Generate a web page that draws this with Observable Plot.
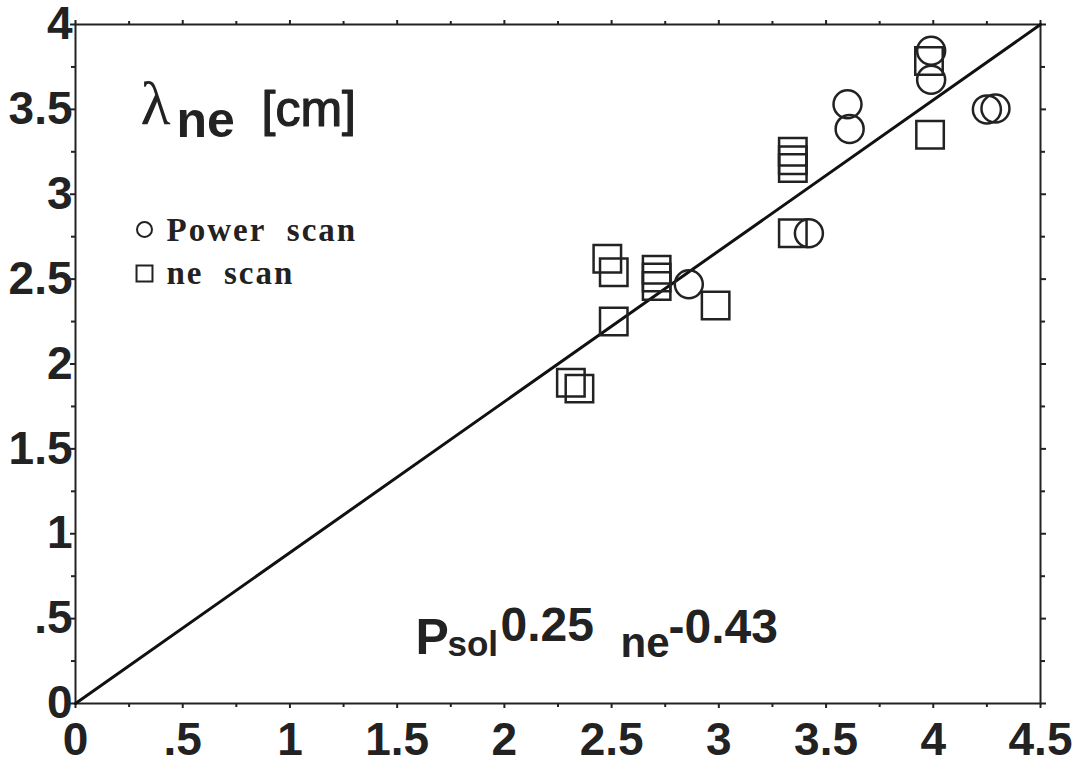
<!DOCTYPE html>
<html>
<head>
<meta charset="utf-8">
<script src="https://cdn.jsdelivr.net/npm/d3@7"></script>
<script src="https://cdn.jsdelivr.net/npm/@observablehq/plot@0.6"></script>
<style>
  html, body { margin: 0; padding: 0; background: #ffffff; }
</style>
</head>
<body>
<script>
// Power scan (circles)
const powerX = [2.86, 3.42, 3.60, 3.61, 3.99, 3.99, 4.25, 4.29];
const powerY = [2.47, 2.77, 3.53, 3.385, 3.845, 3.675, 3.50, 3.505];
// ne scan (squares)
const neX = [2.48, 2.51, 2.71, 2.71, 2.71, 2.51, 2.985, 2.31, 2.35, 3.345, 3.345, 3.345, 3.345, 3.98, 3.985];
const neY = [2.62, 2.54, 2.555, 2.51, 2.46, 2.25, 2.345, 1.89, 1.855, 3.25, 3.20, 3.155, 2.77, 3.785, 3.35];
// fit line
const fitX = [0, 4.5];
const fitY = [0, 4];
// ticks
const xMajor = [0, 0.5, 1, 1.5, 2, 2.5, 3, 3.5, 4, 4.5];
const xMinor = [0.25, 0.75, 1.25, 1.75, 2.25, 2.75, 3.25, 3.75, 4.25];
const yMajor = [0, 0.5, 1, 1.5, 2, 2.5, 3, 3.5, 4];
const yMinor = [0.25, 0.75, 1.25, 1.75, 2.25, 2.75, 3.25, 3.75];
const legendLabels = ["Power\u00a0\u00a0scan", "ne\u00a0\u00a0scan"];

const power = powerX.map((x, i) => ({x, y: powerY[i]}));
const ne = neX.map((x, i) => ({x, y: neY[i]}));
const fit = fitX.map((x, i) => ({x, y: fitY[i]}));

const fmt = d => d === 0 ? "0" : d3.format("~g")(d).replace(/^0\./, ".");
const ink = "#222";
const sans = "'Liberation Sans', Arial, Helvetica, sans-serif";
const serif = "'Liberation Serif', 'Times New Roman', serif";

function label(str, dx, dy, size, opts = {}) {
  return Plot.text([str], {
    text: d => d, frameAnchor: "top-left", dx, dy,
    textAnchor: "start", lineAnchor: "bottom",
    fontSize: size, fontWeight: "bold", fontFamily: sans, fill: ink, ...opts
  });
}

const plot = Plot.plot({
  width: 1092,
  height: 765,
  marginLeft: 75,
  marginRight: 52,
  marginTop: 24,
  marginBottom: 62,
  style: {fontFamily: sans, fontWeight: "bold", fontSize: "46px", color: ink, background: "#ffffff", overflow: "visible"},
  x: {domain: [0, 4.5]},
  y: {domain: [0, 4]},
  marks: [
    Plot.frame({stroke: ink, strokeWidth: 2}),
    // bottom axis
    Plot.axisX({anchor: "bottom", ticks: xMajor, tickSize: 5, tickPadding: 14, tickFormat: fmt, label: null, strokeWidth: 2, fontSize: 46, fontWeight: "bold"}),
    Plot.axisX({anchor: "bottom", ticks: xMinor, tickSize: 4, tickFormat: () => "", label: null, strokeWidth: 2}),
    // top axis
    Plot.axisX({anchor: "top", ticks: xMajor, tickSize: 5, tickFormat: () => "", label: null, strokeWidth: 2}),
    Plot.axisX({anchor: "top", ticks: xMinor, tickSize: 4, tickFormat: () => "", label: null, strokeWidth: 2}),
    // left axis
    Plot.axisY({anchor: "left", ticks: yMajor, tickSize: 5, tickFormat: () => "", label: null, strokeWidth: 2}),
    Plot.axisY({anchor: "left", ticks: yMinor, tickSize: 4, tickFormat: () => "", label: null, strokeWidth: 2}),
    Plot.axisY({anchor: "left", ticks: yMajor, tickSize: 0, tickPadding: 3, tickFormat: fmt, label: null, fontSize: 46, fontWeight: "bold"}),
    // right axis
    Plot.axisY({anchor: "right", ticks: yMajor, tickSize: 5, tickFormat: () => "", label: null, strokeWidth: 2}),
    Plot.axisY({anchor: "right", ticks: yMinor, tickSize: 4, tickFormat: () => "", label: null, strokeWidth: 2}),
    // fit line
    Plot.line(fit, {x: "x", y: "y", stroke: "#111", strokeWidth: 3}),
    // data
    Plot.dot(ne, {x: "x", y: "y", symbol: "square", r: 15.5, stroke: ink, strokeWidth: 2.5, fill: "none"}),
    Plot.dot(power, {x: "x", y: "y", symbol: "circle", r: 14, stroke: ink, strokeWidth: 2.5, fill: "none"}),
    // legend
    Plot.dot([0], {frameAnchor: "top-left", dx: 69, dy: 205, symbol: "circle", r: 7.5, stroke: ink, strokeWidth: 2, fill: "none"}),
    Plot.dot([0], {frameAnchor: "top-left", dx: 69, dy: 249, symbol: "square", r: 9, stroke: ink, strokeWidth: 2, fill: "none"}),
    label(legendLabels[0], 91, 216, 33, {fontFamily: serif}),
    label(legendLabels[1], 91, 259, 33, {fontFamily: serif}),
    // y title
    label("\u03bb", 65, 99, 62, {fontFamily: serif, fontWeight: "normal"}),
    label("ne", 101, 112, 50),
    label("[cm]", 186, 101, 50, {fontWeight: "normal", stroke: ink, strokeWidth: 1.2}),
    // formula
    label("P", 340, 629, 50),
    label("sol", 372, 631, 35),
    label("0.25", 425, 616, 48),
    label("ne", 545, 632, 42),
    label("-0.43", 593, 618, 48)
  ]
});

d3.select(plot).selectAll("text")
  .filter(function() { return this.textContent.includes("scan"); })
  .attr("letter-spacing", "2px");

document.body.append(plot);
</script>
</body>
</html>
